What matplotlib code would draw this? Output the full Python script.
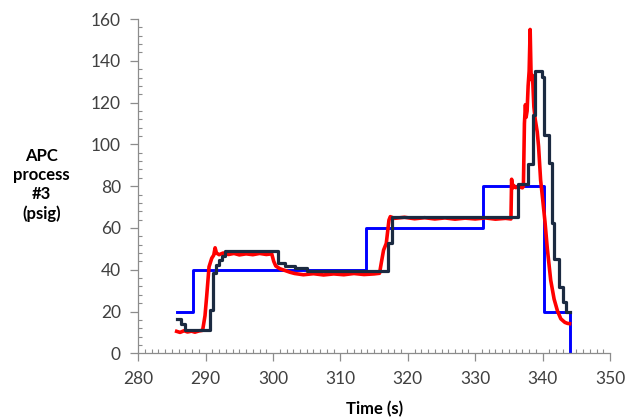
import matplotlib
matplotlib.use("Agg")
import matplotlib.pyplot as plt
from matplotlib.ticker import MultipleLocator

plt.rcParams["font.family"] = ["Lato", "DejaVu Sans"]

# setpoint (blue, step)
sp_t = [285.7, 288.1, 313.8, 331.2, 340.2, 344.05]
sp_v = [20, 40, 60, 80, 20, 0]

# measured process value (red)
pv_t = [285.7, 286.2, 286.8, 287.3, 287.9, 288.4, 289.0, 289.55, 289.9, 290.15, 290.5,
        290.9, 291.2, 291.4, 291.6, 292.0, 292.6, 293.4, 294.2, 295.0, 296.0, 297.0,
        298.0, 299.0, 299.8, 300.1, 300.4, 301.0, 301.8, 302.5, 303.2, 304.5, 306.0,
        307.5, 309.0, 310.5, 312.0, 313.5, 315.0, 315.8, 316.1, 316.4, 316.8, 317.2,
        317.4, 318.0, 319.5, 321.0, 322.5, 324.0, 325.5, 327.0, 328.5, 330.0, 331.5,
        333.0, 334.5, 335.3, 335.4, 335.5, 335.65, 336.0, 336.5, 337.0, 337.15, 337.3,
        337.45, 337.55, 337.7, 337.85, 338.0, 338.15, 338.3, 338.5, 338.7, 338.9, 339.2,
        339.4, 339.7, 340.0, 340.35, 340.7, 341.2, 341.7, 342.2, 342.7, 343.3, 343.7, 344.0]
pv_v = [10.5, 10.0, 10.8, 10.2, 10.6, 10.1, 10.7, 11.0, 18.0, 27.3, 41.4,
        45.5, 47.0, 50.5, 48.0, 47.2, 48.0, 47.3, 47.8, 47.1, 47.6, 47.2,
        47.8, 47.3, 47.6, 44.0, 41.8, 40.5, 39.6, 38.8, 38.2, 37.6, 38.1,
        37.5, 38.0, 37.6, 38.2, 37.7, 38.0, 38.3, 44.0, 49.4, 52.6, 63.8,
        65.4, 64.6, 65.1, 64.4, 64.9, 64.3, 64.8, 64.2, 64.7, 64.3, 64.8,
        64.2, 64.6, 64.3, 83.3, 79.0, 80.5, 79.3, 79.8, 79.2, 80.0, 110.0,
        119.0, 113.0, 116.0, 128.0, 135.0, 155.0, 131.0, 133.0, 118.0, 112.0, 106.0,
        99.0, 83.0, 74.0, 63.0, 50.0, 35.0, 26.0, 20.3, 16.5, 14.8, 14.3, 14.2]

# model / predicted value (dark navy, step)
mv_t = [285.7, 286.3, 286.9, 290.7, 291.1, 291.6, 292.0, 292.4, 292.9, 300.8, 301.8,
        303.3, 305.0, 317.1, 317.6, 336.4, 337.9, 338.6, 338.9, 339.85, 340.2, 341.0,
        341.4, 341.7, 342.5, 343.0, 343.5, 344.05]
mv_v = [16.3, 14.0, 11.0, 20.5, 38.3, 42.2, 44.6, 46.6, 48.8, 43.1, 41.8,
        41.0, 39.4, 52.6, 65.0, 80.8, 90.5, 114.0, 135.3, 132.3, 104.4, 90.9,
        62.2, 45.0, 31.9, 24.7, 19.9, 19.9]

fig = plt.figure(figsize=(6.32, 4.18), dpi=100)
ax = fig.add_axes([0.2188, 0.1548, 0.7464, 0.7997])

ax.plot(sp_t, sp_v, drawstyle="steps-post", color="#0000FF", lw=2.1)
ax.plot(pv_t, pv_v, color="#FF0000", lw=2.6)
ax.plot(mv_t, mv_v, drawstyle="steps-post", color="#1B2A41", lw=2.3)

ax.set_xlim(280, 350)
ax.set_ylim(0, 160)
ax.xaxis.set_major_locator(MultipleLocator(10))
ax.xaxis.set_minor_locator(MultipleLocator(1))
ax.yaxis.set_major_locator(MultipleLocator(20))
ax.yaxis.set_minor_locator(MultipleLocator(4))

gray = "#8C8C8C"
for s in ["top", "right"]:
    ax.spines[s].set_visible(False)
for s in ["left", "bottom"]:
    ax.spines[s].set_color(gray)
    ax.spines[s].set_linewidth(0.9)
ax.tick_params(which="major", direction="out", length=5.5, width=0.9, color=gray,
               labelsize=12.5, labelcolor="#404040", pad=7)
ax.tick_params(which="minor", direction="in", length=3, width=0.8, color=gray)

ax.set_xlabel("Time (s)", fontsize=12, fontweight="bold", labelpad=10)
fig.text(0.066, 0.557, "APC\nprocess\n#3\n(psig)", fontsize=12, fontweight="bold",
         ha="center", va="center", linespacing=1.25)

fig.savefig("out.png", dpi=100, facecolor="white")
